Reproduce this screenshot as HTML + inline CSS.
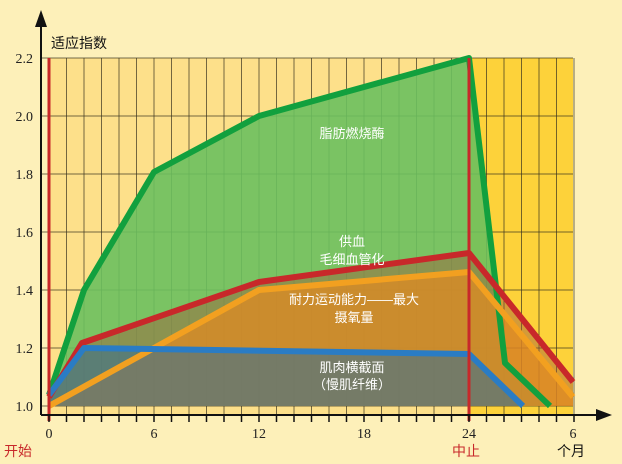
<!DOCTYPE html>
<html><head><meta charset="utf-8"><style>
html,body{margin:0;padding:0;background:#fdf0b9;}
svg{display:block}
text{font-family:"Liberation Sans","Noto Sans CJK SC",sans-serif;}
.num text{font-family:"Liberation Serif",serif;font-size:14px;fill:#222}
</style></head><body>
<svg width="622" height="464" viewBox="0 0 622 464" xmlns="http://www.w3.org/2000/svg">
<rect width="622" height="464" fill="#fdf0b9"/>
<rect x="49" y="58" width="420" height="357" fill="#fde08a"/>
<rect x="469" y="58" width="104" height="357" fill="#fdd23a"/>
<g stroke="#3a3320" stroke-width="1" opacity="0.7">
<line x1="41" y1="58" x2="573" y2="58"/><line x1="41" y1="116" x2="573" y2="116"/>
<line x1="41" y1="174" x2="573" y2="174"/><line x1="41" y1="232" x2="573" y2="232"/>
<line x1="41" y1="290" x2="573" y2="290"/><line x1="41" y1="348" x2="573" y2="348"/>
<line x1="41" y1="406" x2="573" y2="406"/>
</g>
<g stroke="#3a3320" stroke-width="1" opacity="0.7" id="vg"></g>
<script>
var g=document.getElementById('vg');
for(var i=1;i<=30;i++){var x=49+i*17.5;var l=document.createElementNS('http://www.w3.org/2000/svg','line');l.setAttribute('x1',x);l.setAttribute('x2',x);l.setAttribute('y1',58);l.setAttribute('y2',421);g.appendChild(l);}
</script>
<polygon points="49,395 84,290 154,172 259,116 469,58 505,363 550,406 49,406" fill="#6cc05e" opacity="0.9"/>
<polygon points="49,397 82,343 259,282 469,253 573,382 573,406 49,406" fill="#a0583a" opacity="0.45"/>
<polygon points="49,406 259,290 469,272 573,397 573,406" fill="#e08a22" opacity="0.75"/>
<polygon points="49,395 84,348 469,354 523,406 49,406" fill="#3c6f8e" opacity="0.6"/>
<g fill="none" stroke-linejoin="round" stroke-width="6">
<polyline points="49,395 84,290 154,172 259,116 469,58 505,363 550,406" stroke="#12a03e"/>
<polyline points="49,397 82,343 259,282 469,253 573,382" stroke="#c8282a"/>
<polyline points="49,406 259,290 469,272 573,397" stroke="#f2a020"/>
<polyline points="49,395 84,348 469,354 523,406" stroke="#2a7cc4"/>
</g>
<line x1="49" y1="58" x2="49" y2="421" stroke="#c8282a" stroke-width="3"/>
<line x1="469" y1="58" x2="469" y2="421" stroke="#c8282a" stroke-width="3"/>
<line x1="41" y1="415" x2="600" y2="415" stroke="#111" stroke-width="2"/>
<polygon points="612,415 596,409 596,421" fill="#111"/>
<line x1="41" y1="24" x2="41" y2="415" stroke="#111" stroke-width="2"/>
<polygon points="41,10 35,27 47,27" fill="#111"/>
<g stroke="#111" stroke-width="1.5" id="tk"></g>
<script>
var t=document.getElementById('tk');
for(var i=0;i<=30;i++){var x=49+i*17.5;var l=document.createElementNS('http://www.w3.org/2000/svg','line');l.setAttribute('x1',x);l.setAttribute('x2',x);l.setAttribute('y1',415);l.setAttribute('y2',422);t.appendChild(l);}
</script>
<g class="num" text-anchor="end">
<text x="33" y="63">2.2</text><text x="33" y="121">2.0</text><text x="33" y="179">1.8</text>
<text x="33" y="237">1.6</text><text x="33" y="295">1.4</text><text x="33" y="353">1.2</text><text x="33" y="411">1.0</text>
</g>
<g class="num" text-anchor="middle">
<text x="49" y="438">0</text><text x="154" y="438">6</text><text x="259" y="438">12</text>
<text x="364" y="438">18</text><text x="469" y="438">24</text><text x="573" y="438">6</text>
</g>
<text x="51" y="48" font-size="14" fill="#111">适应指数</text>
<text x="4" y="456" font-size="14" fill="#c8282a">开始</text>
<text x="452" y="456" font-size="14" fill="#c8282a">中止</text>
<text x="557" y="456" font-size="14" fill="#111">个月</text>
<g fill="#fff" font-size="13" text-anchor="middle">
<text x="352" y="138">脂肪燃烧酶</text>
<text x="352" y="246">供血</text>
<text x="352" y="264">毛细血管化</text>
<text x="354" y="304">耐力运动能力——最大</text>
<text x="354" y="322">摄氧量</text>
<text x="352" y="372">肌肉横截面</text>
<text x="352" y="389">（慢肌纤维）</text>
</g>
</svg>
</body></html>
